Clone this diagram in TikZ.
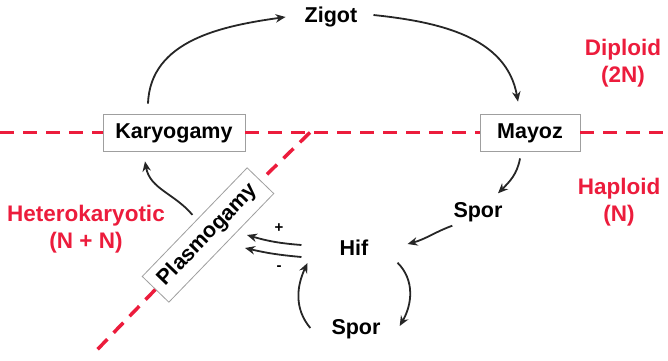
\documentclass[tikz,border=0pt]{standalone}
\usepackage{fontspec}
\setmainfont{Liberation Sans}
\usepackage{tikz}
\usetikzlibrary{arrows.meta, positioning}
\definecolor{cutred}{RGB}{236,28,60}
\tikzset{
  lbl/.style={font=\bfseries\fontsize{21.5}{26}\selectfont, text height=15pt, text depth=4pt, inner sep=2pt},
  box/.style={lbl, draw=gray!75, line width=0.8pt, fill=white, minimum height=37pt},
  zone/.style={font=\bfseries\fontsize{22.5}{27}\selectfont, text=cutred, align=center},
  sign/.style={font=\bfseries\fontsize{15}{17}\selectfont, inner sep=1pt},
  flow/.style={-{Stealth[length=10pt,width=8.5pt]}, line width=1.8pt, black!85},
  cut/.style={cutred, line width=3.5pt, dash pattern=on 14pt off 9pt},
}

\begin{document}
\begin{tikzpicture}[x=1pt,y=1pt]
\useasboundingbox (0,0) rectangle (668,360);

\node[box, minimum width=142pt] (kary) at (174,227.5) {Karyogamy};
\node[box, minimum width=100pt] (mayoz) at (530,227.5) {Mayoz};
\node[box, minimum width=151pt, rotate=46] (plasmo) at (208,125) {Plasmogamy};
\node[lbl] (zigot) at (331,343) {Zigot};
\node[lbl] (spor1) at (478,148) {Spor};
\node[lbl] (hif) at (354,110) {Hif};
\node[lbl] (spor2) at (356,31) {Spor};
\node[sign] (plus) at (279,132) {+};
\node[sign] (minus) at (279,92) {-};

\node[zone] (diploid) at (623,296.5) {Diploid\\(2N)};
\node[zone] (haploid) at (619,158) {Haploid\\(N)};
\node[zone] (hetero) at (86,131) {Heterokaryotic\\(N + N)};

\coordinate (cutL) at (0,227.5);
\coordinate (cutR) at (668,227.5);
\coordinate (bend) at (310,227.5);
\coordinate (cutB) at (95,8);
\draw[cut] (cutL) -- (kary.west);
\draw[cut] (kary.east) -- (mayoz.west);
\draw[cut] (mayoz.east) -- (cutR);
\draw[cut] (bend) -- (plasmo.east);
\draw[cut] (plasmo.west) -- (cutB);

\draw[flow] ([xshift=-26pt,yshift=10pt]kary.north) to[out=88,in=188] ([xshift=-17pt]zigot.west);
\draw[flow] ([xshift=14pt,yshift=2pt]zigot.east) to[out=-6,in=100] ([shift={(-12pt,12pt)}]mayoz.north);
\draw[flow] ([shift={(-10pt,-7pt)}]mayoz.south) to[out=-100,in=45] ([shift={(20pt,7pt)}]spor1.north);
\draw[flow] ([shift={(1pt,-2pt)}]spor1.south west) to[out=200,in=15] ([shift={(37pt,6pt)}]hif.east);
\draw[flow] ([shift={(27pt,-1pt)}]hif.south east) to[out=-45,in=60] ([shift={(17pt,3pt)}]spor2.east);
\draw[flow] ([shift={(-19pt,1pt)}]spor2.west) to[out=130,in=-115] ([shift={(-30pt,-13pt)}]hif.west);
\draw[flow] ([shift={(-36pt,5pt)}]hif.west) to[bend left=6] ([shift={(39pt,0pt)}]plasmo.center);
\draw[flow] ([shift={(-36pt,-7pt)}]hif.west) to[bend left=4] ([shift={(37pt,-13pt)}]plasmo.center);
\draw[flow] ([shift={(-2pt,7pt)}]plasmo.north) to[out=130,in=-80] ([shift={(-29pt,-10pt)}]kary.south);
\end{tikzpicture}
\end{document}
